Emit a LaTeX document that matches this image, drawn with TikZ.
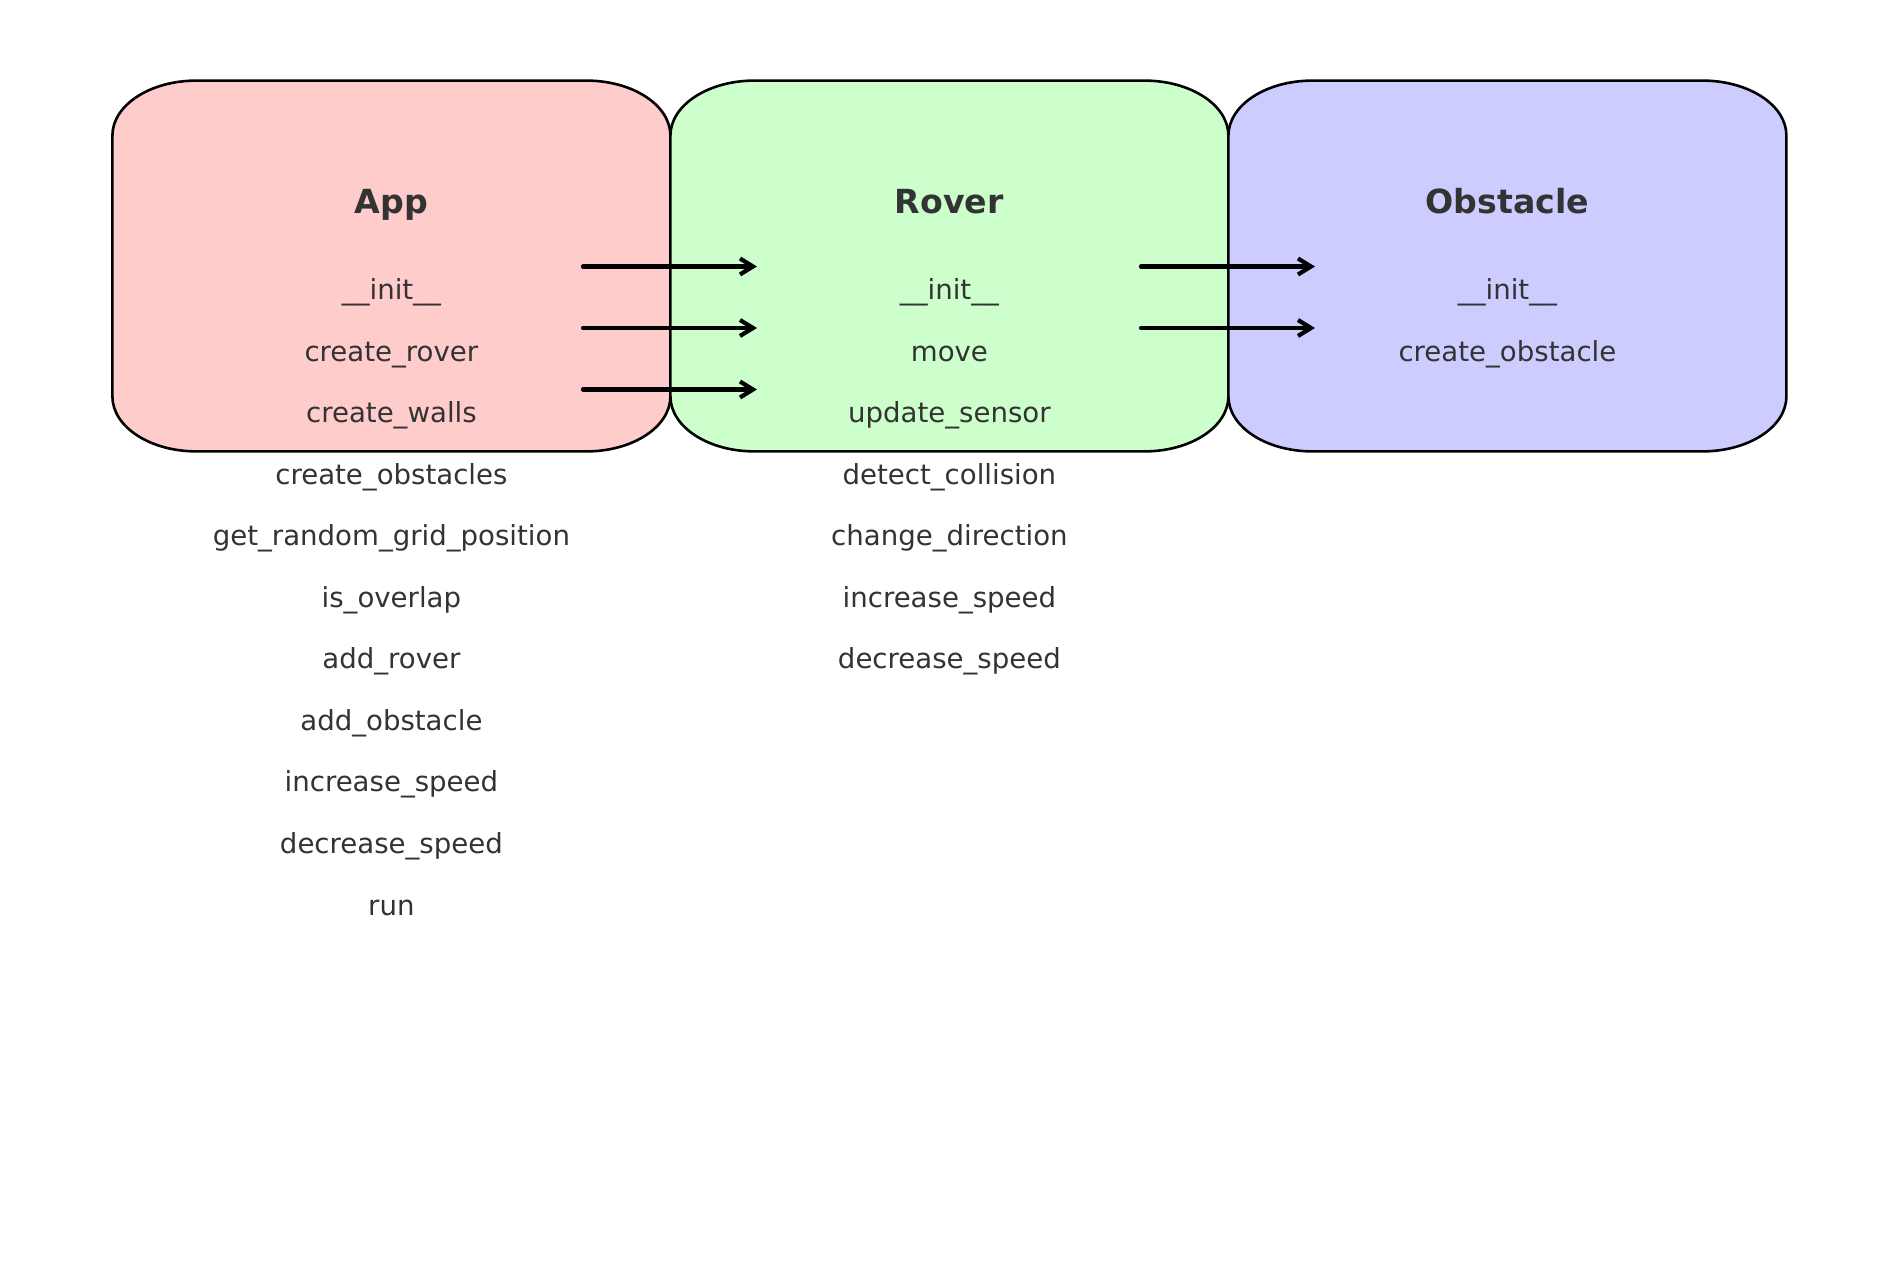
\documentclass[tikz,border=0pt]{standalone}
\usepackage{fontspec}
\setmainfont{DejaVu Sans}
\usetikzlibrary{calc,arrows.meta}
\definecolor{txt}{HTML}{333333}
\definecolor{appfill}{HTML}{FFCCCC}
\definecolor{roverfill}{HTML}{CCFFCC}
\definecolor{obsfill}{HTML}{CCCCFF}
\tikzset{
  boxarea/.style={draw=none,inner sep=0pt,minimum width=278.6pt,minimum height=185pt},
  boxline/.style={draw=black,line width=1.3pt},
  title/.style={anchor=base,inner sep=0pt,text=txt,font=\fontsize{16.6}{19}\selectfont\bfseries},
  meth/.style={anchor=base,inner sep=0pt,text=txt,font=\fontsize{13.8}{16}\selectfont},
  conn/.style={line width=2.1pt,line cap=round,-{Straight Barb[length=6.5pt,width=8pt,line width=2.1pt]}}
}
\newcommand\roundbox[2]{%
  \path[boxline,fill=#2] let \p1=(#1.north west), \p2=(#1.south east) in
  (\x1+42pt,\y1) -- (\x2-42pt,\y1)
  .. controls (\x2-18.8pt,\y1) and (\x2,\y1-12.3pt) .. (\x2,\y1-27.5pt)
  -- (\x2,\y2+27.5pt)
  .. controls (\x2,\y2+12.3pt) and (\x2-18.8pt,\y2) .. (\x2-42pt,\y2)
  -- (\x1+42pt,\y2)
  .. controls (\x1+18.8pt,\y2) and (\x1,\y2+12.3pt) .. (\x1,\y2+27.5pt)
  -- (\x1,\y1-27.5pt)
  .. controls (\x1,\y1-12.3pt) and (\x1+18.8pt,\y1) .. cycle;}
\begin{document}
\begin{tikzpicture}[x=0.5pt,y=-0.5pt]
\useasboundingbox[fill=white] (0,0) rectangle (1900,1272);
% box areas
\node[boxarea] (app) at (391.4,266) {};
\node[boxarea] (rover) at (949.4,266) {};
\node[boxarea] (obs) at (1507.4,266) {};
\roundbox{app}{appfill}
\roundbox{rover}{roverfill}
\roundbox{obs}{obsfill}
% titles
\node[title] (appT) at (391.4,214) {App};
\node[title] (roverT) at (949.4,214) {Rover};
\node[title] (obsT) at (1507.4,214) {Obstacle};
% App methods
\node[meth] (a1) at (391.4,299.5) {\_\_init\_\_};
\node[meth] (a2) at (391.4,361.06) {create\_rover};
\node[meth] (a3) at (391.4,422.62) {create\_walls};
\node[meth] (a4) at (391.4,484.18) {create\_obstacles};
\node[meth] (a5) at (391.4,545.74) {get\_random\_grid\_position};
\node[meth] (a6) at (391.4,607.3) {is\_overlap};
\node[meth] (a7) at (391.4,668.86) {add\_rover};
\node[meth] (a8) at (391.4,730.42) {add\_obstacle};
\node[meth] (a9) at (391.4,791.98) {increase\_speed};
\node[meth] (a10) at (391.4,853.54) {decrease\_speed};
\node[meth] (a11) at (391.4,915.1) {run};
% Rover methods
\node[meth] (r1) at (949.4,299.5) {\_\_init\_\_};
\node[meth] (r2) at (949.4,361.06) {move};
\node[meth] (r3) at (949.4,422.62) {update\_sensor};
\node[meth] (r4) at (949.4,484.18) {detect\_collision};
\node[meth] (r5) at (949.4,545.74) {change\_direction};
\node[meth] (r6) at (949.4,607.3) {increase\_speed};
\node[meth] (r7) at (949.4,668.86) {decrease\_speed};
% Obstacle methods
\node[meth] (o1) at (1507.4,299.5) {\_\_init\_\_};
\node[meth] (o2) at (1507.4,361.06) {create\_obstacle};
% arrow ends
\coordinate (s1) at (583,266.5);
\coordinate (e1) at (757,266.5);
\coordinate (s2) at (583,328);
\coordinate (e2) at (757,328);
\coordinate (s3) at (583,389.5);
\coordinate (e3) at (757,389.5);
\coordinate (s4) at (1141,266.5);
\coordinate (e4) at (1315,266.5);
\coordinate (s5) at (1141,328);
\coordinate (e5) at (1315,328);
\draw[conn] (s1) -- (e1);
\draw[conn] (s2) -- (e2);
\draw[conn] (s3) -- (e3);
\draw[conn] (s4) -- (e4);
\draw[conn] (s5) -- (e5);
\end{tikzpicture}
\end{document}
